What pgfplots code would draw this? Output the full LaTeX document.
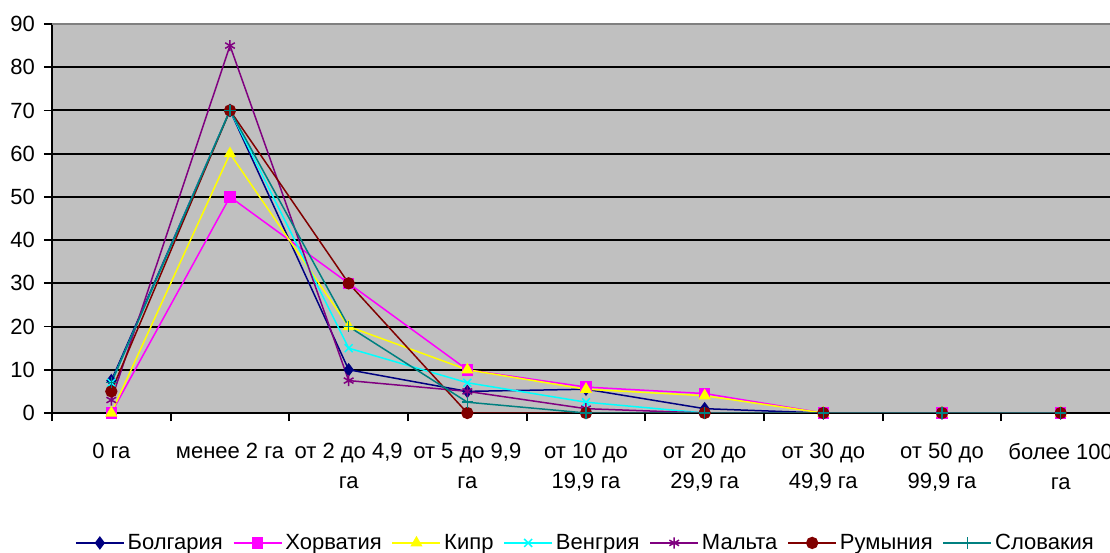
\documentclass[border=0pt]{standalone}
\usepackage{pgfplots}
\pgfplotsset{compat=1.18}
\usepackage{fontspec}
\setmainfont{Liberation Sans}

\definecolor{plotgray}{HTML}{C0C0C0}
\definecolor{cNavy}{HTML}{000080}
\definecolor{cMagenta}{HTML}{FF00FF}
\definecolor{cYellow}{HTML}{FFFF00}
\definecolor{cCyan}{HTML}{00FFFF}
\definecolor{cPurple}{HTML}{800080}
\definecolor{cMaroon}{HTML}{800000}
\definecolor{cTeal}{HTML}{008080}

% share of farms by size class, %
\pgfplotstableread{
x  bg   hr   cy   hu   mt   ro   sk
0  7.5  0    0    7    3    5    7
1  70   50   60   70   85   70   70
2  10   30   20   15   7.5  30   20
3  5    10   10   7    5    0    2.5
4  5.5  6    5.5  2.5  1    0    0
5  1    4.5  4    0    0    0    0
6  0    0    0    0    0    0    0
7  0    0    0    0    0    0    0
8  0    0    0    0    0    0    0
}\farms

\begin{document}
\begin{tikzpicture}
\begin{axis}[
  at={(26bp,70bp)}, anchor=south west,
  scale only axis, width=534bp, height=194.5bp,
  xmin=-0.5, xmax=8.5, ymin=0, ymax=90,
  axis background/.style={fill=plotgray},
  axis x line*=bottom, axis y line*=left,
  axis line style={black, line width=1bp},
  tick align=outside,
  major tick length=4bp, minor tick length=4bp,
  tick style={black, line width=0.9bp},
  xtick={0,...,8},
  minor xtick={-0.5,0.5,...,8.5},
  major x tick style={draw=none},
  xticklabels={
    {0 га},
    {менее 2 га},
    {от 2 до 4,9\\га},
    {от 5 до 9,9\\га},
    {от 10 до\\19,9 га},
    {от 20 до\\29,9 га},
    {от 30 до\\49,9 га},
    {от 50 до\\99,9 га},
    {более 100\\га}},
  xticklabel style={align=center, anchor=north, yshift=-7.5bp,
    font=\fontsize{11bp}{15bp}\selectfont},
  ytick={0,10,...,80},
  extra y ticks={90},
  extra y tick style={grid style={gray, line width=1bp}},
  ymajorgrids,
  grid style={black, line width=1bp},
  yticklabel style={font=\fontsize{11bp}{13bp}\selectfont, xshift=-1bp},
  /pgf/number format/assume math mode=true,
  every axis plot/.append style={line width=0.75bp, mark size=2.8bp},
  legend columns=-1,
  legend style={at={(0.5,-0.334)}, anchor=center, draw=none, fill=none,
    font=\fontsize{11bp}{13bp}\selectfont,
    nodes={inner xsep=1.5bp},
    /tikz/every even column/.append style={column sep=3.5bp}},
  legend image code/.code={
    \draw[mark repeat=2, mark phase=2] plot coordinates {(0bp,0bp) (12bp,0bp) (24bp,0bp)};},
]
\addplot[cNavy, mark=diamond*, mark options={fill=cNavy}] table[x=x, y=bg] {\farms};
\addlegendentry{Болгария}
\addplot[cMagenta, mark=square*, mark size=2.5bp, mark options={fill=cMagenta}] table[x=x, y=hr] {\farms};
\addlegendentry{Хорватия}
\addplot[cYellow, mark=triangle*, mark options={fill=cYellow}] table[x=x, y=cy] {\farms};
\addlegendentry{Кипр}
\addplot[cCyan, mark=x] table[x=x, y=hu] {\farms};
\addlegendentry{Венгрия}
\addplot[cPurple, mark=asterisk] table[x=x, y=mt] {\farms};
\addlegendentry{Мальта}
\addplot[cMaroon, mark=*, mark size=2.7bp, mark options={fill=cMaroon}] table[x=x, y=ro] {\farms};
\addlegendentry{Румыния}
\addplot[cTeal, mark=+] table[x=x, y=sk] {\farms};
\addlegendentry{Словакия}
\end{axis}
\pgfresetboundingbox
\useasboundingbox (0,0) rectangle (555bp,276.5bp);
\end{tikzpicture}
\end{document}
